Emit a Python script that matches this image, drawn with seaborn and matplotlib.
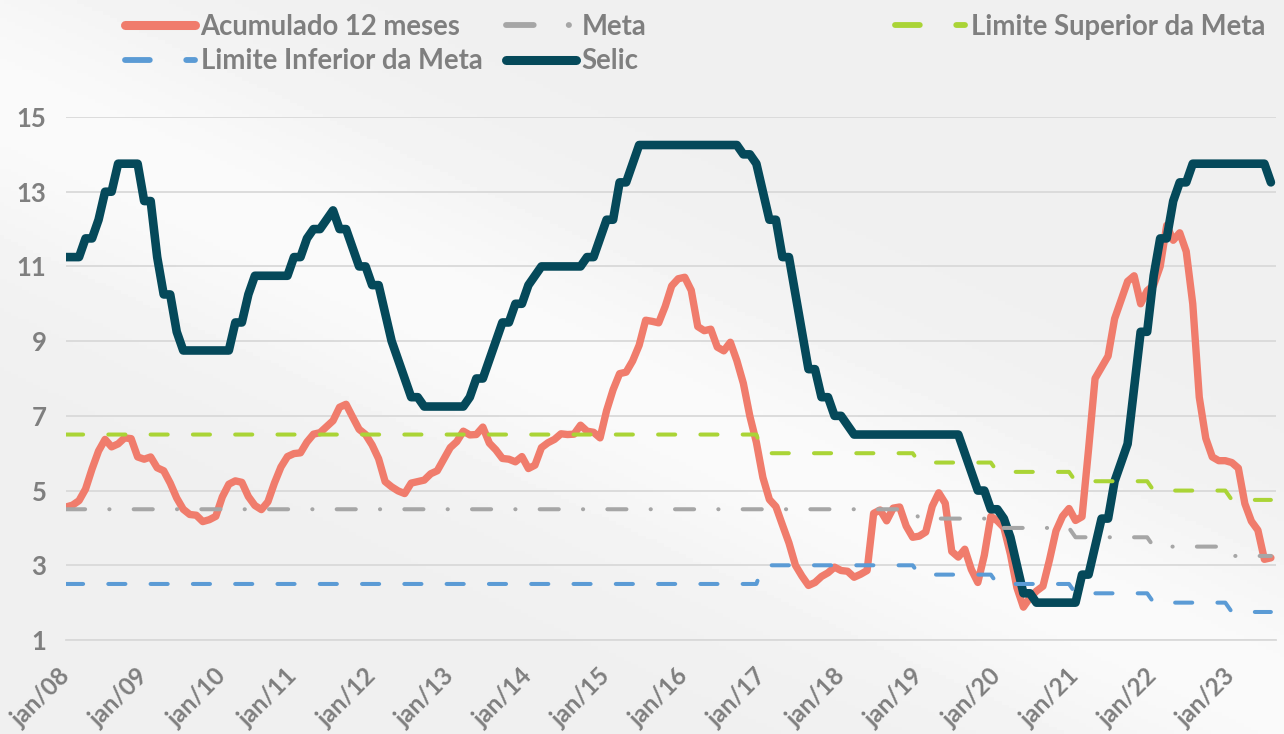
import numpy as np
import pandas as pd
import matplotlib
matplotlib.use("Agg")
import matplotlib.pyplot as plt
from matplotlib.lines import Line2D
import seaborn as sns

sns.set_theme(style="white")
plt.rcParams['font.family'] = ['Lato', 'DejaVu Sans']

# one point per month, jan/08 .. jul/23 (the source has no jan/10 row)
months_per_year = [12, 12, 11, 12, 12, 12, 12, 12, 12, 12, 12, 12, 12, 12, 12, 7]
tick_labels = ['jan/08', 'jan/09', 'jan/10', 'jan/11', 'jan/12', 'jan/13', 'jan/14', 'jan/15',
               'jan/16', 'jan/17', 'jan/18', 'jan/19', 'jan/20', 'jan/21', 'jan/22', 'jan/23']

ipca_12m = [
    4.56, 4.61, 4.73, 5.04, 5.58, 6.06, 6.37, 6.17, 6.25, 6.41, 6.39, 5.90,
    5.84, 5.90, 5.61, 5.53, 5.20, 4.80, 4.50, 4.36, 4.34, 4.17, 4.22, 4.31,
    4.83, 5.17, 5.26, 5.22, 4.84, 4.60, 4.49, 4.70, 5.20, 5.63, 5.91,
    5.99, 6.01, 6.30, 6.51, 6.55, 6.71, 6.87, 7.23, 7.31, 6.97, 6.64, 6.50,
    6.22, 5.85, 5.24, 5.10, 4.99, 4.92, 5.20, 5.24, 5.28, 5.45, 5.53, 5.84,
    6.15, 6.31, 6.59, 6.49, 6.50, 6.70, 6.27, 6.09, 5.86, 5.84, 5.77, 5.91,
    5.59, 5.68, 6.15, 6.28, 6.37, 6.52, 6.50, 6.51, 6.75, 6.59, 6.56, 6.41,
    7.14, 7.70, 8.13, 8.17, 8.47, 8.89, 9.56, 9.53, 9.49, 9.93, 10.48, 10.67,
    10.71, 10.36, 9.39, 9.28, 9.32, 8.84, 8.74, 8.97, 8.48, 7.87, 6.99, 6.29,
    5.35, 4.76, 4.57, 4.08, 3.60, 3.00, 2.71, 2.46, 2.54, 2.70, 2.80, 2.95,
    2.86, 2.84, 2.68, 2.76, 2.86, 4.39, 4.48, 4.19, 4.53, 4.56, 4.05, 3.75,
    3.78, 3.89, 4.58, 4.94, 4.66, 3.37, 3.22, 3.43, 2.89, 2.54, 3.27, 4.31,
    4.19, 4.01, 3.30, 2.40, 1.88, 2.13, 2.31, 2.44, 3.14, 3.92, 4.31, 4.52,
    4.20, 4.30, 6.10, 8.00, 8.30, 8.60, 9.60, 10.10, 10.60, 10.75, 10.00, 10.35,
    10.50, 11.00, 12.10, 11.70, 11.90, 11.40, 10.00, 7.50, 6.40, 5.90, 5.80, 5.80,
    5.75, 5.60, 4.65, 4.18, 3.94, 3.16, 3.20,
]

selic = [
    11.25, 11.25, 11.25, 11.75, 11.75, 12.25, 13.0, 13.0, 13.75, 13.75, 13.75, 13.75,
    12.75, 12.75, 11.25, 10.25, 10.25, 9.25, 8.75, 8.75, 8.75, 8.75, 8.75, 8.75,
    8.75, 8.75, 9.5, 9.5, 10.25, 10.75, 10.75, 10.75, 10.75, 10.75, 10.75,
    11.25, 11.25, 11.75, 12.0, 12.0, 12.25, 12.5, 12.0, 12.0, 11.5, 11.0, 11.0,
    10.5, 10.5, 9.75, 9.0, 8.5, 8.0, 7.5, 7.5, 7.25, 7.25, 7.25, 7.25,
    7.25, 7.25, 7.25, 7.5, 8.0, 8.0, 8.5, 9.0, 9.5, 9.5, 10.0, 10.0,
    10.5, 10.75, 11.0, 11.0, 11.0, 11.0, 11.0, 11.0, 11.0, 11.25, 11.25, 11.75,
    12.25, 12.25, 13.25, 13.25, 13.75, 14.25, 14.25, 14.25, 14.25, 14.25, 14.25, 14.25,
    14.25, 14.25, 14.25, 14.25, 14.25, 14.25, 14.25, 14.25, 14.25, 14.0, 14.0, 13.75,
    13.0, 12.25, 12.25, 11.25, 11.25, 10.25, 9.25, 8.25, 8.25, 7.5, 7.5, 7.0,
    7.0, 6.75, 6.5, 6.5, 6.5, 6.5, 6.5, 6.5, 6.5, 6.5, 6.5, 6.5,
    6.5, 6.5, 6.5, 6.5, 6.5, 6.5, 6.5, 6.0, 5.5, 5.0, 5.0, 4.5,
    4.5, 4.25, 3.75, 3.0, 2.25, 2.25, 2.0, 2.0, 2.0, 2.0, 2.0, 2.0,
    2.0, 2.75, 2.75, 3.5, 4.25, 4.25, 5.25, 5.75, 6.25, 7.75, 9.25, 9.25,
    10.75, 11.75, 11.75, 12.75, 13.25, 13.25, 13.75, 13.75, 13.75, 13.75, 13.75, 13.75,
    13.75, 13.75, 13.75, 13.75, 13.75, 13.75, 13.25,
]

# inflation target and tolerance band, one value per calendar year
meta_year = [4.5, 4.5, 4.5, 4.5, 4.5, 4.5, 4.5, 4.5, 4.5, 4.5, 4.5, 4.25, 4.0, 3.75, 3.5, 3.25]
lim_inf_year = [2.5, 2.5, 2.5, 2.5, 2.5, 2.5, 2.5, 2.5, 2.5, 3.0, 3.0, 2.75, 2.5, 2.25, 2.0, 1.75]
lim_sup_year = [6.5, 6.5, 6.5, 6.5, 6.5, 6.5, 6.5, 6.5, 6.5, 6.0, 6.0, 5.75, 5.5, 5.25, 5.0, 4.75]

df = pd.DataFrame({
    'pos': np.arange(len(selic)),
    'ipca': ipca_12m,
    'selic': selic,
    'meta': np.repeat(meta_year, months_per_year),
    'lim_inf': np.repeat(lim_inf_year, months_per_year),
    'lim_sup': np.repeat(lim_sup_year, months_per_year),
})
tick_pos = np.concatenate([[0], np.cumsum(months_per_year)[:-1]])

C_IPCA = '#F07C6C'
C_SELIC = '#05495A'
C_META = '#A6A6A6'
C_SUP = '#AAD436'
C_INF = '#5B9BD5'
TXT = '#7F7F7F'

W, H = 1284, 734
fig = plt.figure(figsize=(W / 100, H / 100), dpi=100)

# soft grey backdrop with a lighter diagonal streak
bg = fig.add_axes([0, 0, 1, 1], zorder=-10)
yy, xx = np.mgrid[0:1:200j, 0:1:350j]
band = np.exp(-((xx * 0.9 + yy * 1.1 - 0.95) / 0.22) ** 2)
bg.imshow(0.94 + 0.04 * band, cmap='gray', vmin=0, vmax=1, aspect='auto',
          extent=[0, 1, 0, 1], origin='lower')
bg.axis('off')

ax = fig.add_axes([66 / W, (H - 640) / H, (1276 - 66) / W, (640 - 117) / H])
ax.patch.set_alpha(0)

lw_thin = 2.9
sns.lineplot(data=df, x='pos', y='ipca', ax=ax, color=C_IPCA, linewidth=5.3,
             legend=False, zorder=2, solid_capstyle='round', solid_joinstyle='round')
sns.lineplot(data=df, x='pos', y='selic', ax=ax, color=C_SELIC, linewidth=6.2,
             legend=False, zorder=3, solid_capstyle='round', solid_joinstyle='round')
meta_ls = (0, (4.75, 6.0, 0.05, 6.0))
lim_ls = (0, (4.25, 6.25))
sns.lineplot(data=df, x='pos', y='meta', ax=ax, color=C_META, linewidth=lw_thin,
             linestyle=meta_ls, dash_capstyle='round', legend=False, zorder=4)
sns.lineplot(data=df, x='pos', y='lim_sup', ax=ax, color=C_SUP, linewidth=lw_thin,
             linestyle=lim_ls, dash_capstyle='round', legend=False, zorder=4)
sns.lineplot(data=df, x='pos', y='lim_inf', ax=ax, color=C_INF, linewidth=lw_thin,
             linestyle=lim_ls, dash_capstyle='round', legend=False, zorder=4)

ax.set_xlim(0, (1276 - 66) / 6.513)
ax.set_ylim(1, 15)
ax.set_yticks(range(1, 16, 2))
ax.set_xticks(tick_pos)
ax.set_xticklabels(tick_labels, rotation=45, ha='right', va='center',
                   rotation_mode='anchor')
ax.set_xlabel('')
ax.set_ylabel('')
ax.grid(axis='y', color='#D9D9D9', linewidth=1.3)
ax.grid(axis='x', visible=False)
for side in ['left', 'right', 'top']:
    ax.spines[side].set_visible(False)
ax.spines['bottom'].set_color('#D9D9D9')
ax.spines['bottom'].set_linewidth(1.3)
ax.tick_params(axis='y', length=0, pad=14, labelsize=18.5, labelcolor=TXT)
ax.tick_params(axis='x', length=6, width=1.3, color='#D9D9D9', pad=17,
               labelsize=17.5, labelcolor=TXT)
for lab in ax.get_xticklabels() + ax.get_yticklabels():
    lab.set_fontweight('bold')

# legend, laid out like the original: three columns of different widths
h_ipca = Line2D([], [], color=C_IPCA, lw=6.5, solid_capstyle='round')
h_meta = Line2D([], [], color=C_META, lw=lw_thin + 1.3, linestyle=meta_ls, dash_capstyle='round')
h_sup = Line2D([], [], color=C_SUP, lw=lw_thin + 1.3, linestyle=lim_ls, dash_capstyle='round')
h_inf = Line2D([], [], color=C_INF, lw=lw_thin + 1.3, linestyle=lim_ls, dash_capstyle='round')
h_selic = Line2D([], [], color=C_SELIC, lw=6.5, solid_capstyle='round')

leg_kw = dict(loc='upper left', frameon=False, borderaxespad=0, borderpad=0,
              handlelength=2.55, handletextpad=0.2, labelspacing=0.3,
              prop={'family': 'Lato', 'weight': 'bold', 'size': 19.8})
cols = [([h_ipca, h_inf], ['Acumulado 12 meses', 'Limite Inferior da Meta'], 125),
        ([h_meta, h_selic], ['Meta', 'Selic'], 506),
        ([h_sup], ['Limite Superior da Meta'], 895)]
for handles, labels, x0 in cols:
    leg = fig.legend(handles, labels, bbox_to_anchor=(x0 / W, 1 - 14 / H), **leg_kw)
    for t in leg.get_texts():
        t.set_color(TXT)

fig.savefig('out.png', dpi=100)
